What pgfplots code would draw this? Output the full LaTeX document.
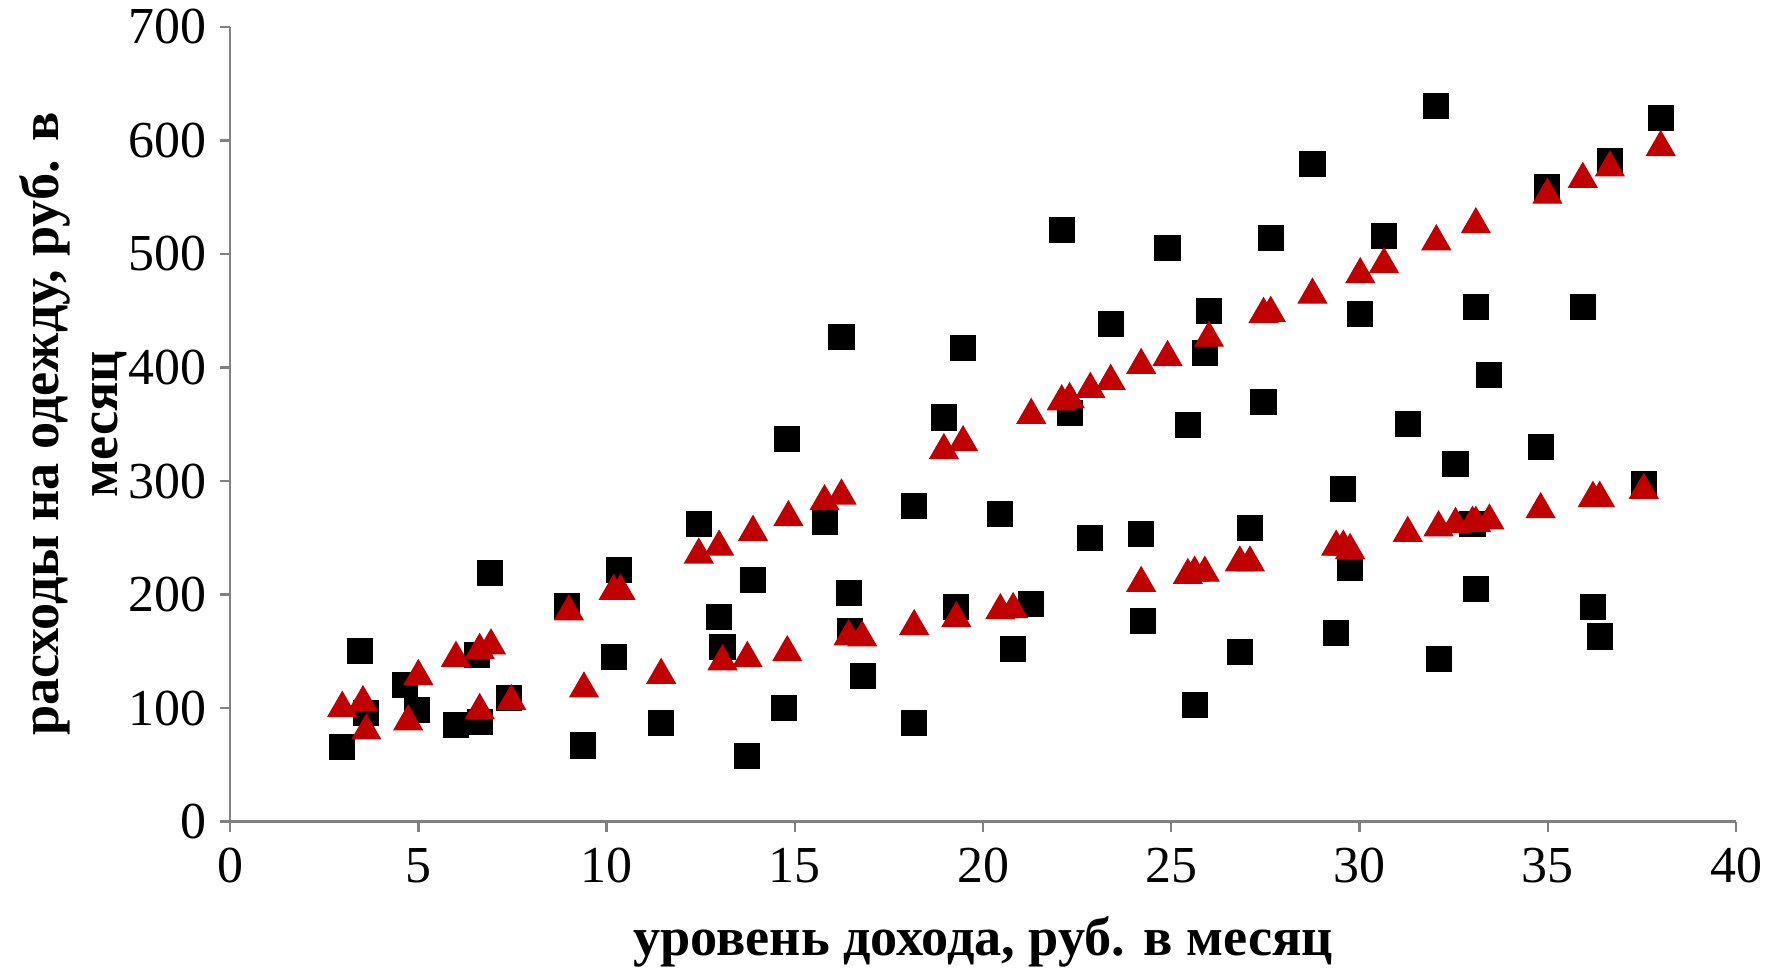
\documentclass[border=0pt]{standalone}
\usepackage{pgfplots}
\pgfplotsset{compat=1.18}
\usepackage{fontspec}
\setmainfont{Liberation Serif}
\definecolor{mred}{HTML}{C00000}
\definecolor{axgray}{HTML}{808080}
\begin{document}
\begin{tikzpicture}
\begin{axis}[
  scale only axis, width=507.9pt, height=268pt,
  xmin=0, xmax=40, ymin=0, ymax=700,
  xtick={0,5,...,40}, ytick={0,100,...,700},
  axis lines*=left,
  axis line style={axgray, line width=0.8pt},
  every tick/.style={axgray, line width=0.8pt},
  tick align=outside, major tick length=3.4pt,
  /pgf/number format/assume math mode=true,
  tick label style={font=\fontsize{17.5}{20}\selectfont, black},
  yticklabel style={xshift=-1pt},
  xticklabel style={yshift=-2pt},
  label style={font=\fontsize{18.3}{20}\selectfont\bfseries},
  xlabel={уровень дохода, руб. в месяц},
  xlabel style={at={(axis description cs:0.5,0)}, anchor=center, yshift=-40.5pt},
  ylabel={расходы на одежду, руб. в\\месяц},
  ylabel style={at={(axis description cs:-0.104,0.5)}, anchor=center, align=center},
  clip=false,
]
\coordinate (bl) at (rel axis cs:0,0);
\coordinate (tr) at (rel axis cs:1,1);
\addplot[only marks, mark=square*, mark size=4.2pt, mark options={fill=black, draw=black}] coordinates {
(2.98,66) (3.44,150) (3.62,96) (4.64,120) (4.97,98) (6.0,85) (6.57,147) (6.63,88)
(6.9,219) (7.41,109) (8.95,190) (9.37,67) (10.19,145) (10.34,222) (11.45,87)
(12.45,262) (12.99,180) (13.08,154) (13.74,58) (13.89,213) (14.71,100) (14.8,337)
(15.79,264) (16.24,427) (16.43,201) (16.46,168) (16.82,128) (18.17,87) (18.17,278)
(18.96,356) (19.29,189) (19.47,417) (20.46,271) (20.8,152) (21.28,192) (22.09,521)
(22.3,360) (22.85,250) (23.39,438) (24.2,253) (24.26,177) (24.9,505) (25.44,349)
(25.62,103) (25.89,413) (26.0,450) (26.82,149) (27.09,259) (27.45,370) (27.64,514)
(28.75,579) (29.38,166) (29.57,293) (29.75,223) (30.02,447) (30.65,516) (31.28,350)
(32.04,630) (32.1,143) (32.55,315) (33.0,262) (33.09,453) (33.09,205) (33.45,393)
(34.81,330) (34.99,559) (35.93,453) (36.2,189) (36.38,163) (36.65,582) (37.55,297)
(38.0,620)
};
\addplot[only marks, mark=triangle*, mark size=5.5pt, mark options={fill=mred, draw=mred}] coordinates {
(2.98,100) (3.53,105) (3.62,80) (4.73,88) (5.0,128) (6.0,144) (6.63,98) (6.63,151)
(6.93,155) (7.47,106) (9.0,185) (9.4,117) (10.19,203) (10.37,203) (11.45,129)
(12.45,235) (12.99,242) (13.08,141) (13.74,144) (13.89,255) (14.8,149) (14.83,268)
(15.79,282) (16.24,287) (16.43,163) (16.79,162) (18.17,172) (18.96,327) (19.29,179)
(19.47,334) (20.46,186) (20.8,187) (21.28,358) (22.09,370) (22.3,372) (22.85,381)
(23.39,388) (24.2,402) (24.2,210) (24.9,409) (25.44,217) (25.62,219) (25.89,219)
(26.0,426) (26.82,228) (27.09,228) (27.45,447) (27.64,448) (28.75,464) (29.38,242)
(29.57,242) (29.75,239) (30.02,482) (30.65,491) (31.28,254) (32.04,511) (32.1,259)
(32.55,262) (33.0,263) (33.09,526) (33.09,263) (33.45,265) (34.81,275) (34.99,552)
(35.93,566) (36.2,285) (36.38,285) (36.65,576) (37.55,292) (38.0,594)
};
\end{axis}
\pgfresetboundingbox
\path (bl) ++(-77.6pt,-51.3pt) coordinate (a);
\path (tr) ++(14.5pt,9.1pt) coordinate (b);
\path[use as bounding box] (a) rectangle (b);
\end{tikzpicture}
\end{document}
